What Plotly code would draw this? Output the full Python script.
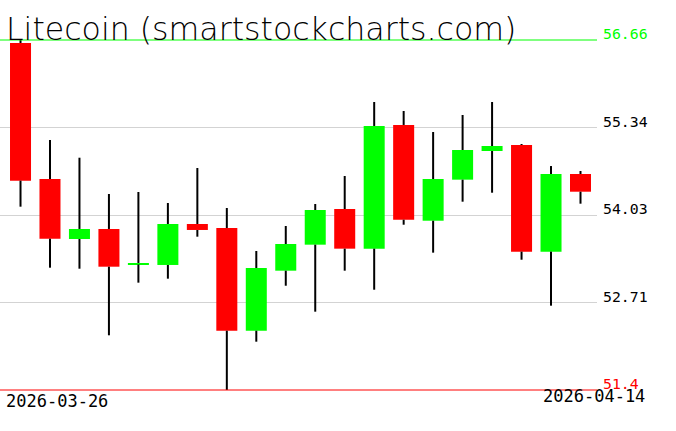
import plotly.graph_objects as go

# ---- data ----
dates = ["2026-03-26", "2026-03-27", "2026-03-28", "2026-03-29", "2026-03-30",
         "2026-03-31", "2026-04-01", "2026-04-02", "2026-04-03", "2026-04-04",
         "2026-04-05", "2026-04-06", "2026-04-07", "2026-04-08", "2026-04-09",
         "2026-04-10", "2026-04-11", "2026-04-12", "2026-04-13", "2026-04-14"]
opens = [56.615, 54.571, 53.669, 53.820, 53.286, 53.279, 53.895, 53.835, 52.291, 53.193,
         53.584, 54.120, 53.524, 55.383, 53.944, 54.561, 54.992, 55.082, 53.479, 54.646]
highs = [56.66, 55.157, 54.891, 54.346, 54.376, 54.210, 54.736, 54.135, 53.489, 53.865,
         54.195, 54.616, 55.728, 55.593, 55.277, 55.533, 55.728, 55.097, 54.766, 54.691]
lows = [54.155, 53.238, 53.223, 52.222, 53.013, 53.073, 53.704, 51.40, 52.126, 52.967,
        52.577, 53.193, 52.907, 53.884, 53.464, 54.230, 54.365, 53.358, 52.667, 54.200]
closes = [54.546, 53.674, 53.820, 53.253, 53.309, 53.895, 53.805, 52.291, 53.233, 53.594,
          54.105, 53.524, 55.368, 53.959, 54.571, 55.007, 55.067, 53.479, 54.646, 54.380]

price_max = 56.66
price_min = 51.4
grid_levels = [55.34, 54.03, 52.71]
level_values = [56.66, 55.34, 54.03, 52.71, 51.4]
level_labels = ["56.66", "55.34", "54.03", "52.71", "51.4"]
level_colors = ["#00ff00", "black", "black", "black", "#ff0000"]
title_text = "Litecoin (smartstockcharts.com)"

# ---- build ----
idx = list(range(len(dates)))
colors = ["#00ff00" if c >= o else "#ff0000" for o, c in zip(opens, closes)]
body_base = [min(o, c) for o, c in zip(opens, closes)]
body_h = [max(abs(c - o), 0.008) for o, c in zip(opens, closes)]

wx, wy = [], []
for i, (o, h, l, c) in enumerate(zip(opens, highs, lows, closes)):
    top, bot = max(o, c), min(o, c)
    wx += [i, i, None, i, i, None]
    wy += [h, top, None, bot, l, None]

fig = go.Figure()
fig.add_trace(go.Scatter(x=wx, y=wy, mode="lines",
                         line=dict(color="black", width=2), hoverinfo="skip"))
fig.add_trace(go.Bar(x=idx, y=body_h, base=body_base, width=0.713,
                     marker=dict(color=colors, line=dict(width=0)),
                     customdata=dates, hovertemplate="%{customdata}<extra></extra>"))

W, H = 676, 431
plot_w = 597
px_per_unit = 350 / (price_max - price_min)
y_top = price_max + 40 / px_per_unit
y_bot = price_min - (H - 390) / px_per_unit

fig.add_shape(type="line", xref="paper", x0=0, x1=1, yref="y", y0=price_max, y1=price_max,
              line=dict(color="#00ff00", width=1))
fig.add_shape(type="line", xref="paper", x0=0, x1=1, yref="y", y0=price_min, y1=price_min,
              line=dict(color="#ff0000", width=1))

for v, t, col in zip(level_values, level_labels, level_colors):
    fig.add_annotation(x=1, xref="paper", xshift=4, xanchor="left",
                       y=v, yref="y", yanchor="bottom", yshift=-4,
                       text=t, showarrow=False,
                       font=dict(family="DejaVu Sans Mono", size=14.8, color=col))

fig.add_annotation(x=4 / plot_w, xref="paper", xanchor="left",
                   y=(H - 401) / H, yref="paper", yanchor="middle",
                   text=dates[0], showarrow=False,
                   font=dict(family="DejaVu Sans Mono", size=17, color="black"))
fig.add_annotation(x=647 / plot_w, xref="paper", xanchor="right",
                   y=(H - 396) / H, yref="paper", yanchor="middle",
                   text=dates[-1], showarrow=False,
                   font=dict(family="DejaVu Sans Mono", size=17, color="black"))
fig.add_annotation(x=4 / plot_w, xref="paper", xanchor="left",
                   y=(H - 29) / H, yref="paper", yanchor="middle",
                   text=title_text, showarrow=False,
                   font=dict(family="DejaVu Sans", size=31.6, color="black", weight=200))

fig.update_layout(
    width=W, height=H,
    margin=dict(l=0, r=W - plot_w, t=0, b=0),
    paper_bgcolor="white", plot_bgcolor="white",
    showlegend=False,
    xaxis=dict(range=[-0.696, 19.56], showgrid=False, zeroline=False,
               showticklabels=False, showline=False, fixedrange=True),
    yaxis=dict(range=[y_bot, y_top], tickvals=grid_levels, showgrid=True,
               gridcolor="#d3d3d3", gridwidth=1, showticklabels=False,
               zeroline=False, showline=False, fixedrange=True),
)

fig.write_html("out.html", config={"displayModeBar": False},
               post_script="document.body.style.margin='0';document.body.style.overflow='hidden';")
